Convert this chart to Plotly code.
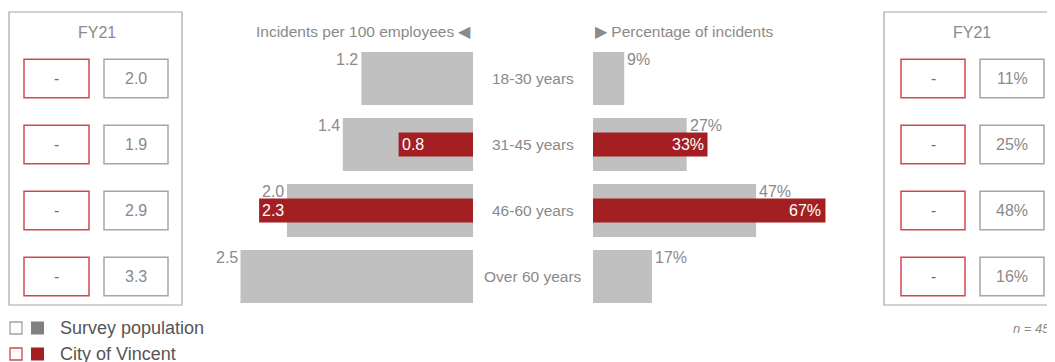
import plotly.graph_objects as go

# ---- data ----
age_groups = ['18-30 years', '31-45 years', '46-60 years', 'Over 60 years']
rate_survey = [1.2, 1.4, 2.0, 2.5]
rate_vincent = [None, 0.8, 2.3, None]
pct_survey = [9, 27, 47, 17]
pct_vincent = [None, 33, 67, None]
fy21_rate_survey = ['2.0', '1.9', '2.9', '3.3']
fy21_pct_survey = ['11%', '25%', '48%', '16%']
fy21_vincent = ['-', '-', '-', '-']
n_text = 'n = 45'

# page has an 8px body margin, so the figure is sized to fit inside the window
OFF = 8
W, H = 1055 - OFF, 362 - OFF
GREY_BAR = '#c0c0c0'
RED = '#a31f22'
TXT = '#8a8a8a'
BOX_GREY = '#a6a6a6'
BOX_RED = '#cc4a4f'
FONT = 'Liberation Sans, Arial, sans-serif'


def px(x):
    # screen pixel -> paper x
    return (x - OFF) / W


def py(y):
    # screen pixel -> paper y
    return 1 - (y - OFF) / H


rows = list(range(len(age_groups)))

fig = go.Figure()

# left side: incidents per 100 employees (reversed axis)
fig.add_trace(go.Bar(x=rate_survey, y=rows, orientation='h', width=0.8,
                     marker=dict(color=GREY_BAR, line=dict(width=0)),
                     xaxis='x', yaxis='y', hoverinfo='skip'))
fig.add_trace(go.Bar(x=rate_vincent, y=rows, orientation='h', width=0.36,
                     marker=dict(color=RED, line=dict(width=0)),
                     xaxis='x', yaxis='y', hoverinfo='skip'))
# right side: percentage of incidents
fig.add_trace(go.Bar(x=pct_survey, y=rows, orientation='h', width=0.8,
                     marker=dict(color=GREY_BAR, line=dict(width=0)),
                     xaxis='x2', yaxis='y', hoverinfo='skip'))
fig.add_trace(go.Bar(x=pct_vincent, y=rows, orientation='h', width=0.36,
                     marker=dict(color=RED, line=dict(width=0)),
                     xaxis='x2', yaxis='y', hoverinfo='skip'))

ann = []
shapes = []

# value labels
for i in rows:
    ann.append(dict(x=rate_survey[i], y=i, xref='x', yref='y', text=f'{rate_survey[i]:.1f}',
                    xanchor='right', yanchor='middle', xshift=-1, yshift=19, showarrow=False,
                    font=dict(size=16, color=TXT)))
    ann.append(dict(x=pct_survey[i], y=i, xref='x2', yref='y', text=f'{pct_survey[i]}%',
                    xanchor='left', yanchor='middle', xshift=1, yshift=19, showarrow=False,
                    font=dict(size=16, color=TXT)))
    if rate_vincent[i] is not None:
        ann.append(dict(x=rate_vincent[i], y=i, xref='x', yref='y', text=f'{rate_vincent[i]:.1f}',
                        xanchor='left', yanchor='middle', xshift=1, showarrow=False,
                        font=dict(size=16, color='white')))
    if pct_vincent[i] is not None:
        ann.append(dict(x=pct_vincent[i], y=i, xref='x2', yref='y', text=f'{pct_vincent[i]}%',
                        xanchor='right', yanchor='middle', xshift=-2, showarrow=False,
                        font=dict(size=16, color='white')))
    # category labels
    ann.append(dict(x=px(533), y=i, xref='paper', yref='y', text=age_groups[i],
                    xanchor='center', yanchor='middle', showarrow=False,
                    font=dict(size=15.5, color=TXT)))

# headers
ann.append(dict(x=px(473), y=py(31), xref='paper', yref='paper', text='Incidents per 100 employees ◀',
                xanchor='right', yanchor='middle', showarrow=False, font=dict(size=15.5, color=TXT)))
ann.append(dict(x=px(593), y=py(31), xref='paper', yref='paper', text='▶ Percentage of incidents',
                xanchor='left', yanchor='middle', showarrow=False, font=dict(size=15.5, color=TXT)))

# FY21 side panels
panels = [
    (9, 182, 97, 24, 89, 104, 168, fy21_rate_survey),
    (884, 1064, 972, 901, 965, 980, 1044, fy21_pct_survey),
]
for x0, x1, xc, rx0, rx1, gx0, gx1, vals in panels:
    shapes.append(dict(type='rect', xref='paper', yref='paper', x0=px(x0), x1=px(x1),
                       y0=py(305), y1=py(12), line=dict(color=BOX_GREY, width=1.2)))
    ann.append(dict(x=px(xc), y=py(32), xref='paper', yref='paper', text='FY21',
                    xanchor='center', yanchor='middle',
                    showarrow=False, font=dict(size=16, color=TXT)))
    for i in rows:
        shapes.append(dict(type='rect', xref='paper', yref='y', x0=px(rx0), x1=px(rx1),
                           y0=i - 0.29, y1=i + 0.29, line=dict(color=BOX_RED, width=1.5)))
        shapes.append(dict(type='rect', xref='paper', yref='y', x0=px(gx0), x1=px(gx1),
                           y0=i - 0.29, y1=i + 0.29, line=dict(color=BOX_GREY, width=1.5)))
        ann.append(dict(x=px((rx0 + rx1) / 2), y=i, xref='paper', yref='y', text=fy21_vincent[i],
                        xanchor='center', yanchor='middle',
                        showarrow=False, font=dict(size=16, color=BOX_RED)))
        ann.append(dict(x=px((gx0 + gx1) / 2), y=i, xref='paper', yref='y', text=vals[i],
                        xanchor='center', yanchor='middle',
                        showarrow=False, font=dict(size=16, color=TXT)))

ann.append(dict(x=px(1011), y=py(328), xref='paper', yref='paper', text=f'<i>{n_text}</i>',
                xanchor='left', yanchor='middle', showarrow=False, font=dict(size=13, color=TXT)))

# legend
legend_rows = [('Survey population', '#a0a0a0', '#808080', 328),
               ('City of Vincent', BOX_RED, RED, 354)]
for label, open_c, fill_c, yc in legend_rows:
    shapes.append(dict(type='rect', xref='paper', yref='paper', x0=px(10), x1=px(22),
                       y0=py(yc + 6), y1=py(yc - 6), line=dict(color=open_c, width=1.3)))
    shapes.append(dict(type='rect', xref='paper', yref='paper', x0=px(31), x1=px(44),
                       y0=py(yc + 6.5), y1=py(yc - 6.5), line=dict(width=0), fillcolor=fill_c))
    ann.append(dict(x=px(58), y=py(yc), xref='paper', yref='paper', text=label,
                    xanchor='left', yanchor='middle', showarrow=False,
                    font=dict(size=18, color='#555555')))

ydom = [py(309.5), py(45.5)]
fig.update_layout(
    width=W, height=H,
    margin=dict(l=0, r=0, t=0, b=0),
    paper_bgcolor='white', plot_bgcolor='white',
    barmode='overlay', showlegend=False,
    font=dict(family=FONT, color=TXT),
    xaxis=dict(domain=[px(170), px(473)], range=[(473 - 170) / 93, 0], visible=False, fixedrange=True),
    xaxis2=dict(domain=[px(593), px(880)], range=[0, (880 - 593) / 3.47], visible=False,
                anchor='y', fixedrange=True),
    yaxis=dict(domain=ydom, range=[3.5, -0.5], visible=False, fixedrange=True),
    annotations=ann,
    shapes=shapes,
)

fig.write_html('out.html')
